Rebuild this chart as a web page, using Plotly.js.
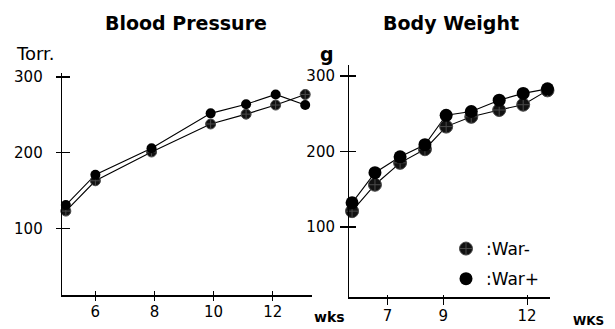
<!DOCTYPE html>
<html>
<head>
<meta charset="utf-8">
<script src="https://cdn.plot.ly/plotly-3.0.1.min.js"></script>
<style>
  html, body { margin: 0; padding: 0; background: #fff; }
  #chart { width: 615px; height: 329px; }
</style>
</head>
<body>
<div id="chart"></div>
<script>
// Blood pressure (Torr.) by age in weeks
const bpWeeks = [5, 6, 7.9, 9.9, 11.1, 12.1, 13.1];
const bpWarMinus = [123, 163, 201, 238, 251, 263, 277];
const bpWarPlus = [131, 171, 206, 252, 264, 277, 263];

// Body weight (g) by age in weeks
const bwWeeks = [5.73, 6.55, 7.45, 8.34, 9.1, 10, 11, 11.86, 12.73];
const bwWarMinus = [121, 156, 185, 203, 233, 246, 255, 262, 281];
const bwWarPlus = [132, 172, 193, 209, 248, 253, 268, 277, 283];

// Axis ticks
const bpXTicks = [6, 8, 10, 12];
const bwXTicks = [7, 9, 12];
const yTicks = [100, 200, 300];

const seriesNames = [':War-', ':War+'];

const FONT = 'DejaVu Sans, Verdana, sans-serif';
const W = 615, H = 329;
const px = v => v / W;
const py = v => 1 - v / H;

const markMinus = { symbol: 'circle-cross', color: '#111', line: { color: '#4a4a4a', width: 1 } };
const markPlus = { symbol: 'circle', color: '#000', line: { color: '#000', width: 0 } };
const lineStyle = { color: '#000', width: 1.1 };

// Connecting line of one series (no legend entry)
function lineTrace(x, y, xa, ya, group) {
  return {
    type: 'scatter', mode: 'lines', x: x, y: y, xaxis: xa, yaxis: ya,
    legendgroup: group, showlegend: false, line: lineStyle,
    cliponaxis: false, hoverinfo: 'skip'
  };
}

// Dots of one series
function dotTrace(x, y, xa, ya, marker, size, name, group, showlegend) {
  return {
    type: 'scatter', mode: 'markers', x: x, y: y, xaxis: xa, yaxis: ya,
    name: name, legendgroup: group, showlegend: showlegend,
    marker: Object.assign({}, marker, { size: size }),
    cliponaxis: false, hoverinfo: 'skip'
  };
}

const traces = [
  lineTrace(bpWeeks, bpWarMinus, 'x', 'y', 'minus'),
  lineTrace(bpWeeks, bpWarPlus, 'x', 'y', 'plus'),
  lineTrace(bwWeeks, bwWarMinus, 'x2', 'y2', 'minus'),
  lineTrace(bwWeeks, bwWarPlus, 'x2', 'y2', 'plus'),
  dotTrace(bpWeeks, bpWarMinus, 'x', 'y', markMinus, 10, seriesNames[0], 'minus', false),
  dotTrace(bpWeeks, bpWarPlus, 'x', 'y', markPlus, 10, seriesNames[1], 'plus', false),
  dotTrace(bwWeeks, bwWarMinus, 'x2', 'y2', markMinus, 13, seriesNames[0], 'minus', true),
  dotTrace(bwWeeks, bwWarPlus, 'x2', 'y2', markPlus, 13, seriesNames[1], 'plus', true),
  // empty traces that register the overlay axes carrying the inner tick halves
  { type: 'scatter', x: [], y: [], xaxis: 'x3', yaxis: 'y3', showlegend: false, hoverinfo: 'skip' },
  { type: 'scatter', x: [], y: [], xaxis: 'x4', yaxis: 'y4', showlegend: false, hoverinfo: 'skip' }
];

// Panel geometry
const bpDomX = [px(61.7), px(312)], bpDomY = [py(295), py(73)];
const bwDomX = [px(349), px(550)], bwDomY = [py(297), py(65)];
const bpXRange = [4.86, 13.33], bpYRange = [12.2, 305.3];
const bwXRange = [5.62, 12.82], bwYRange = [7.3, 314.6];

const tickFont = { family: FONT, size: 15, color: '#000' };

function mainAxis(domain, range, anchor, tickvals, extra) {
  return Object.assign({
    domain: domain, range: range, anchor: anchor,
    tickmode: 'array', tickvals: tickvals,
    ticks: 'outside', ticklen: 5, tickwidth: 1.2, tickcolor: '#000',
    showline: true, linecolor: '#000', linewidth: 1.3,
    showgrid: false, zeroline: false, fixedrange: true,
    tickfont: tickFont
  }, extra || {});
}

// Inner half of the cross-shaped ticks
function innerAxis(range, overlay, anchor, tickvals, ticklen) {
  return {
    overlaying: overlay, anchor: anchor, range: range,
    tickmode: 'array', tickvals: tickvals,
    ticks: 'inside', ticklen: ticklen, tickwidth: 1.2, tickcolor: '#000',
    showticklabels: false, showline: false, showgrid: false, zeroline: false,
    fixedrange: true
  };
}

const layout = {
  width: W, height: H,
  margin: { l: 0, r: 0, t: 0, b: 0 },
  paper_bgcolor: '#fff', plot_bgcolor: 'rgba(0,0,0,0)',
  font: { family: FONT, color: '#000' },
  showlegend: true,
  legend: {
    x: px(446), xanchor: 'left', y: py(231), yanchor: 'top',
    bgcolor: 'rgba(0,0,0,0)', borderwidth: 0,
    font: { family: FONT, size: 17, color: '#000' },
    itemsizing: 'trace', tracegroupgap: 5, traceorder: 'grouped'
  },
  xaxis: mainAxis(bpDomX, bpXRange, 'y', bpXTicks, { ticklen: 4, ticklabelstandoff: -2, linewidth: 1.6 }),
  yaxis: mainAxis(bpDomY, bpYRange, 'x', yTicks, { ticklabelstandoff: 10, linewidth: 1 }),
  xaxis2: mainAxis(bwDomX, bwXRange, 'y2', bwXTicks, { ticklen: 6, ticklabelstandoff: -2, linewidth: 1.6 }),
  yaxis2: mainAxis(bwDomY, bwYRange, 'x2', yTicks, { ticklen: 8, ticklabelstandoff: 2, linewidth: 1 }),
  xaxis3: innerAxis(bpXRange, 'x', 'y3', bpXTicks, 4),
  yaxis3: innerAxis(bpYRange, 'y', 'x3', yTicks, 8),
  xaxis4: innerAxis(bwXRange, 'x2', 'y4', bwXTicks, 2),
  yaxis4: innerAxis(bwYRange, 'y2', 'x4', yTicks, 7),
  annotations: [
    { text: 'Blood Pressure', x: px(186), y: py(23), xref: 'paper', yref: 'paper',
      xanchor: 'center', yanchor: 'middle', showarrow: false, font: { family: FONT, size: 19, weight: 'bold' } },
    { text: 'Body Weight', x: px(451), y: py(23), xref: 'paper', yref: 'paper',
      xanchor: 'center', yanchor: 'middle', showarrow: false, font: { family: FONT, size: 19, weight: 'bold' } },
    { text: 'Torr.', x: px(14), y: py(53), xref: 'paper', yref: 'paper',
      xanchor: 'left', yanchor: 'middle', showarrow: false, font: { family: FONT, size: 18 } },
    { text: 'g', x: px(327), y: py(54), xref: 'paper', yref: 'paper',
      xanchor: 'center', yanchor: 'middle', showarrow: false, font: { family: FONT, size: 19, weight: 'bold' } },
    { text: 'wks', x: px(312), y: py(317), xref: 'paper', yref: 'paper',
      xanchor: 'left', yanchor: 'middle', showarrow: false, font: { family: FONT, size: 14, weight: 'bold' } },
    { text: 'WKS', x: px(571), y: py(321), xref: 'paper', yref: 'paper',
      xanchor: 'left', yanchor: 'middle', showarrow: false, font: { family: FONT, size: 12, weight: 'bold' } }
  ]
};

Plotly.newPlot('chart', traces, layout, { staticPlot: true, displayModeBar: false });
</script>
</body>
</html>
